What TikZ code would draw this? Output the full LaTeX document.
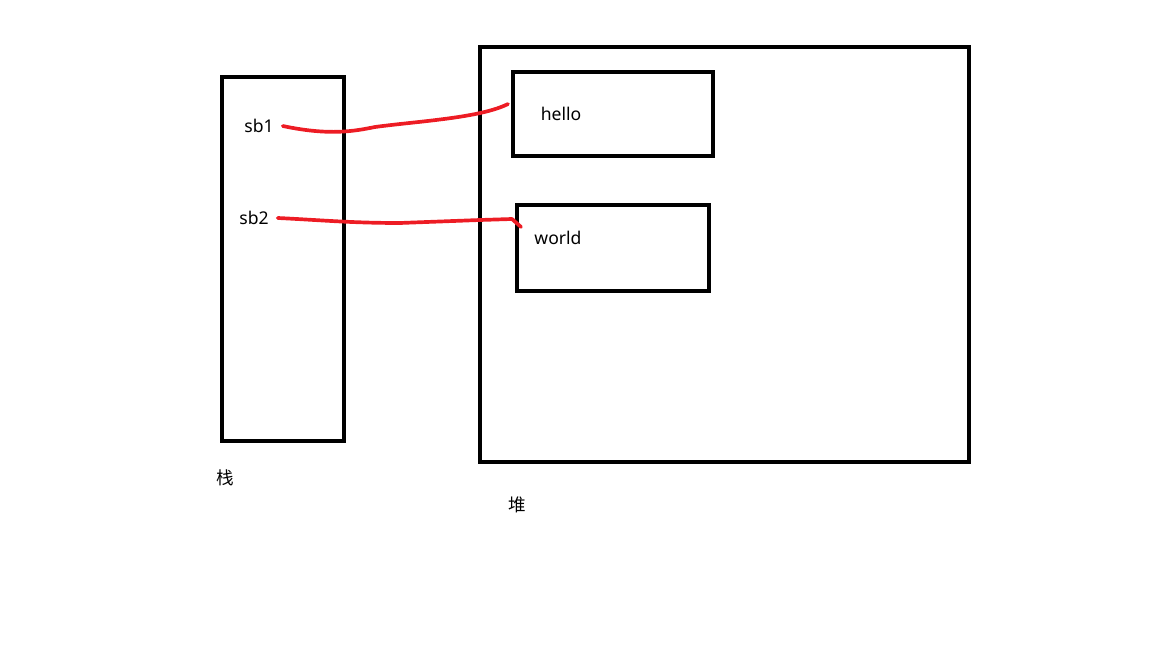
\documentclass[tikz,border=0pt]{standalone}
\usepackage{fontspec}
\setmainfont{Noto Sans}
\newfontfamily\cjk{Noto Sans CJK SC}
\usepackage{tikz}
\usetikzlibrary{positioning}
\definecolor{penred}{RGB}{237,28,36}

\begin{document}
\begin{tikzpicture}[
    x=0.02cm, y=-0.02cm,
    every node/.style={font=\fontsize{10}{12}\selectfont},
    box/.style={draw, line width=2.6pt, inner sep=0pt},
    txt/.style={inner sep=1pt},
    link/.style={draw=penred, line width=2.1pt, line cap=round, line join=round},
  ]
  \useasboundingbox (0,0) rectangle (1152,648);

  % ── Boxes ────────────────────────────────────────────────────────────────

  % stack
  \node[box, minimum width=2.44cm, minimum height=7.28cm] (stack) at (283, 259) {};
  % heap
  \node[box, minimum width=9.78cm, minimum height=8.3cm]  (heap)  at (724.5, 254.5) {};
  \node[box, minimum width=4.0cm,  minimum height=1.68cm] (hellobox) at (613, 114) {};
  \node[box, minimum width=3.84cm, minimum height=1.72cm] (worldbox) at (613, 248) {};

  % ── Labels ───────────────────────────────────────────────────────────────

  \node[txt] (sb1)   at (259, 126) {sb1};
  \node[txt] (sb2)   at (254, 218) {sb2};
  \node[txt] (hello) at (561, 114) {hello};
  \node[txt] (world) at (558, 238) {world};
  \node[txt] (stacklbl) at (225, 478) {\cjk 栈};
  \node[txt] (heaplbl)  at (517, 505) {\cjk 堆};

  % ── Links ────────────────────────────────────────────────────────────────

  \coordinate (hellopt) at (508, 104);
  \coordinate (worldpt) at (521, 227);

  % sb1 → hello
  \draw[link] ([xshift=4pt]sb1.east) .. controls (330,136) and (355,131) .. (375,127)
              .. controls (420,121) and (480,118) .. (hellopt);

  % sb2 → world
  \draw[link] ([xshift=4pt]sb2.east) .. controls (320,220) and (350,223) .. (400,223)
              -- (480,220) -- (512,219) -- (worldpt);

\end{tikzpicture}
\end{document}
